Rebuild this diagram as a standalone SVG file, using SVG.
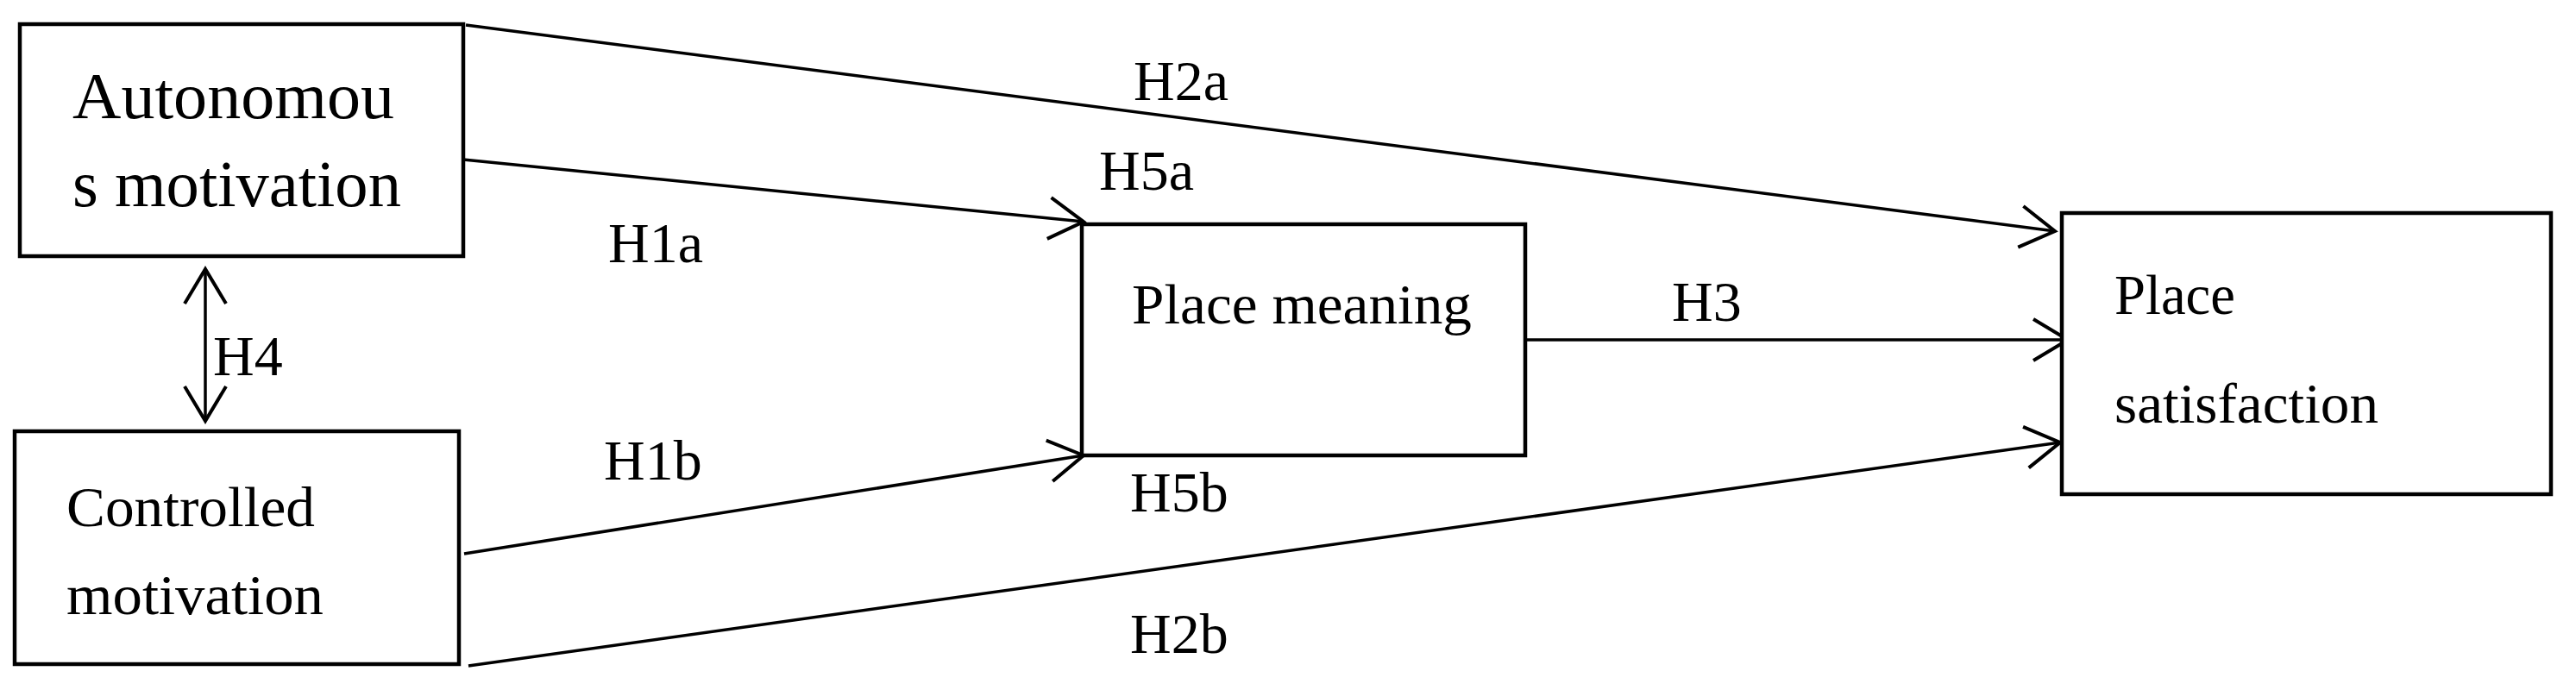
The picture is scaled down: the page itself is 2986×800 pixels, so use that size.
<svg xmlns="http://www.w3.org/2000/svg" width="2986" height="800" viewBox="0 0 2986 800">
<style>
.box{fill:#fff;stroke:#000;stroke-width:4.5}
.t{font-family:"Liberation Serif","Times New Roman",serif;font-size:66px;fill:#000}
.big{font-size:76px}
.ln{stroke:#000;stroke-width:3.5;fill:none}
</style>
<defs>
<marker id="ah" markerUnits="userSpaceOnUse" markerWidth="60" markerHeight="60" viewBox="-50 -30 60 60" refX="0" refY="0" orient="auto-start-reverse">
<path d="M-40,-24 L0,0 L-40,24" fill="none" stroke="#000" stroke-width="4"/>
</marker>
</defs>
<rect width="2986" height="800" fill="#fff"/>
<g id="connectors">
<line class="ln" x1="540" y1="29" x2="2382" y2="268" marker-end="url(#ah)"/>
<line class="ln" x1="537" y1="185" x2="1256" y2="257" marker-end="url(#ah)"/>
<line class="ln" x1="538" y1="642" x2="1256" y2="528" marker-end="url(#ah)"/>
<line class="ln" x1="543" y1="772" x2="2388" y2="513" marker-end="url(#ah)"/>
<line class="ln" x1="1770" y1="394" x2="2397" y2="394" marker-end="url(#ah)"/>
<line class="ln" x1="238" y1="312" x2="238" y2="488" marker-start="url(#ah)" marker-end="url(#ah)"/>
<text class="t" x="1314" y="116">H2a</text>
<text class="t" x="1274" y="220">H5a</text>
<text class="t" x="705" y="304">H1a</text>
<text class="t" x="247" y="435">H4</text>
<text class="t" x="1938" y="372">H3</text>
<text class="t" x="700" y="556">H1b</text>
<text class="t" x="1310" y="593">H5b</text>
<text class="t" x="1310" y="757">H2b</text>
</g>
<g id="autonomous">
<rect class="box" x="23" y="28" width="514" height="269"/>
<text class="t big" x="84" y="137" textLength="373" lengthAdjust="spacingAndGlyphs">Autonomou</text>
<text class="t big" x="84" y="239" textLength="381" lengthAdjust="spacingAndGlyphs">s motivation</text>
</g>
<g id="controlled">
<rect class="box" x="17" y="500" width="515" height="270"/>
<text class="t" x="77" y="610" textLength="288" lengthAdjust="spacingAndGlyphs">Controlled</text>
<text class="t" x="77" y="712" textLength="298" lengthAdjust="spacingAndGlyphs">motivation</text>
</g>
<g id="place-meaning">
<rect class="box" x="1254" y="260" width="514" height="268"/>
<text class="t" x="1312" y="375" textLength="394" lengthAdjust="spacingAndGlyphs">Place meaning</text>
</g>
<g id="place-satisfaction">
<rect class="box" x="2390" y="247" width="567" height="326"/>
<text class="t" x="2451" y="364" textLength="140" lengthAdjust="spacingAndGlyphs">Place</text>
<text class="t" x="2451" y="490" textLength="306" lengthAdjust="spacingAndGlyphs">satisfaction</text>
</g>
</svg>
